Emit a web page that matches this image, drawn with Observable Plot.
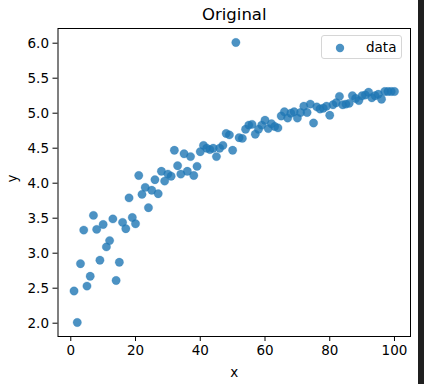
<!DOCTYPE html>
<html>
<head>
<meta charset="utf-8">
<script src="https://cdn.jsdelivr.net/npm/d3@7"></script>
<script src="https://cdn.jsdelivr.net/npm/@observablehq/plot@0.6"></script>
<style>
  html, body { margin: 0; padding: 0; background: #fff; }
  #wrap { position: relative; width: 424px; height: 384px; overflow: hidden; font-family: "DejaVu Sans", sans-serif; }
  #strip { position: absolute; left: 418px; top: 0; width: 6px; height: 384px; background: #1f1f1f; }
  #legend { position: absolute; left: 321px; top: 35px; width: 81px; height: 24px; border: 1px solid #d6d6d6; border-radius: 3px; background: rgba(255,255,255,0.8); box-sizing: border-box; }
  #legend svg { position: absolute; left: 13px; top: 7px; }
  #legend span { position: absolute; left: 44px; top: 3px; font-size: 13.5px; color: #000; }
</style>
</head>
<body>
<div id="wrap">
  <div id="chart"></div>
  <div id="legend"><svg width="10" height="10"><circle cx="5" cy="5" r="4.2" fill="#1f77b4" fill-opacity="0.8"></circle></svg><span>data</span></div>
  <div id="strip"></div>
</div>
<script>
const title = "Original";
const xLabel = "x";
const yLabel = "y";
const seriesName = "data";
const xs = d3.range(1, 101);
const ys = [
  2.46, 2.01, 2.85, 3.33, 2.53, 2.67, 3.54, 3.34, 2.90, 3.41,
  3.09, 3.18, 3.49, 2.61, 2.87, 3.44, 3.35, 3.79, 3.51, 3.42,
  4.11, 3.84, 3.94, 3.65, 3.90, 4.05, 3.85, 4.17, 4.03, 4.13,
  4.10, 4.47, 4.25, 4.13, 4.42, 4.17, 4.38, 4.11, 4.24, 4.45,
  4.54, 4.50, 4.48, 4.50, 4.38, 4.50, 4.54, 4.71, 4.69, 4.47,
  6.01, 4.65, 4.64, 4.77, 4.83, 4.84, 4.70, 4.77, 4.83, 4.90,
  4.78, 4.85, 4.81, 4.79, 4.96, 5.02, 4.93, 5.00, 5.02, 4.93,
  5.01, 5.10, 5.01, 5.13, 4.86, 5.09, 5.06, 5.07, 5.10, 4.97,
  5.12, 5.15, 5.24, 5.12, 5.13, 5.14, 5.25, 5.21, 5.18, 5.25,
  5.26, 5.30, 5.22, 5.25, 5.27, 5.20, 5.31, 5.31, 5.31, 5.31
];
const xTicks = [0, 20, 40, 60, 80, 100];
const yTicks = [2.0, 2.5, 3.0, 3.5, 4.0, 4.5, 5.0, 5.5, 6.0];

const data = xs.map((x, i) => ({x, y: ys[i]}));
const xmin = d3.min(xs), xmax = d3.max(xs);
const ymin = d3.min(ys), ymax = d3.max(ys);
const xpad = (xmax - xmin) * 0.05, ypad = (ymax - ymin) * 0.05;

const chart = Plot.plot({
  width: 424,
  height: 384,
  marginLeft: 57.5,
  marginRight: 14,
  marginTop: 28,
  marginBottom: 48,
  style: { fontFamily: "DejaVu Sans, sans-serif", fontSize: "13px", color: "#000", background: "#fff", overflow: "visible" },
  x: { domain: [xmin - xpad, xmax + xpad] },
  y: { domain: [ymin - ypad, ymax + ypad] },
  marks: [
    Plot.dot(data, { x: "x", y: "y", r: 4.2, fill: "#1f77b4", fillOpacity: 0.8, stroke: "#1f77b4", strokeOpacity: 0.3, strokeWidth: 0.8 }),
    Plot.frame({ stroke: "#000", strokeWidth: 1 }),
    Plot.axisX({ ticks: xTicks, tickSize: 5, tickPadding: 4, fontSize: 13.5, label: null, tickFormat: d => String(d) }),
    Plot.axisY({ ticks: yTicks, tickSize: 5, tickPadding: 4, fontSize: 13.5, label: null, tickFormat: d => d.toFixed(1) }),
    Plot.text([xLabel], { frameAnchor: "bottom", lineAnchor: "middle", dy: 36, fontSize: 13.5, text: d => d }),
    Plot.text([yLabel], { frameAnchor: "left", dx: -45, rotate: -90, fontSize: 13.5, text: d => d }),
    Plot.text([title], { frameAnchor: "top", lineAnchor: "middle", dy: -14, fontSize: 16.5, text: d => d })
  ]
});
document.getElementById("chart").appendChild(chart);
</script>
</body>
</html>
